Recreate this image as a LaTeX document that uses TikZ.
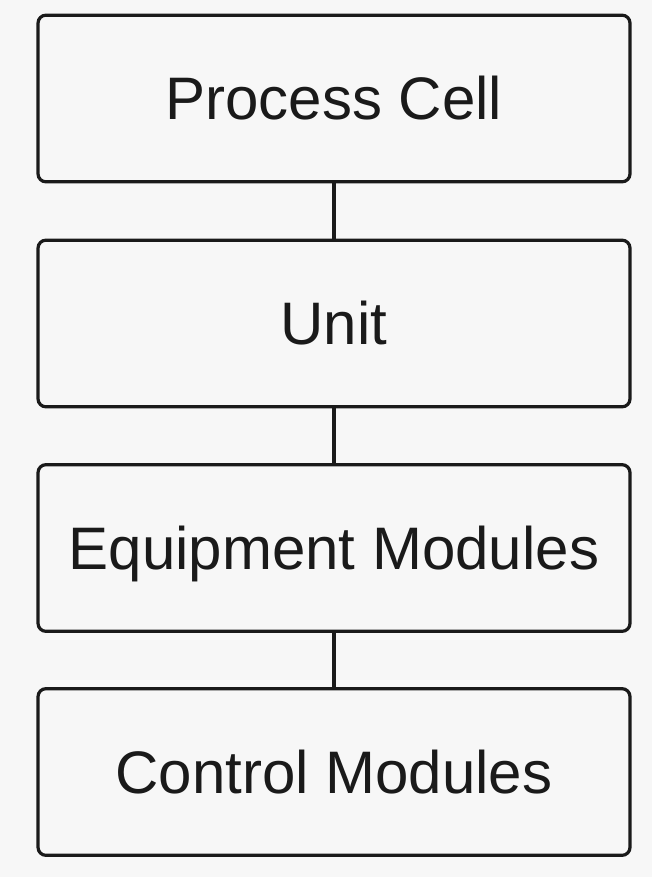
\documentclass[tikz,border=0pt]{standalone}
\usepackage{fontspec}
\setmainfont{Liberation Sans}
\definecolor{bgcol}{HTML}{F7F7F7}
\definecolor{inkcol}{HTML}{1A1A1A}
\begin{document}
\begin{tikzpicture}[x=0.75pt,y=-0.75pt,
  levelbox/.style={draw=inkcol, line width=2.4pt, rounded corners=6pt,
    minimum width=444pt, minimum height=125pt, inner sep=0pt,
    text=inkcol, font=\fontsize{45}{52}\selectfont,
    text height=32.2pt, text depth=0pt},
  link/.style={draw=inkcol, line width=2.4pt}]
\fill[bgcol] (0,0) rectangle (652,877);
\useasboundingbox (0,0) rectangle (652,877);
\node[levelbox] (cell) at (334,98.5) {Process Cell};
\node[levelbox] (unit) at (334,323.5) {Unit};
\node[levelbox] (equip) at (334,548) {Equipment Modules};
\node[levelbox] (ctrl) at (334,772) {Control Modules};
\draw[link] (cell.south) -- (unit.north);
\draw[link] (unit.south) -- (equip.north);
\draw[link] (equip.south) -- (ctrl.north);
\end{tikzpicture}
\end{document}
